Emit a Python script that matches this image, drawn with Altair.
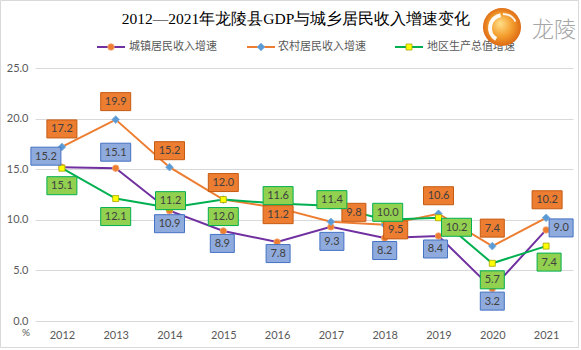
import altair as alt
import pandas as pd

# ---------------- data ----------------
years = [2012, 2013, 2014, 2015, 2016, 2017, 2018, 2019, 2020, 2021]
urban = [15.2, 15.1, 10.9, 8.9, 7.8, 9.3, 8.2, 8.4, 3.2, 9.0]
rural = [17.2, 19.9, 15.2, 12.0, 11.2, 9.8, 9.5, 10.6, 7.4, 10.2]
gdp = [15.1, 12.1, 11.2, 12.0, 11.6, 11.4, 10.0, 10.2, 5.7, 7.4]
series_names = ["城镇居民收入增速", "农村居民收入增速", "地区生产总值增速"]
y_ticks = [0, 5, 10, 15, 20, 25]
title_text = "2012—2021年龙陵县GDP与城乡居民收入增速变化"
logo_text = "龙陵"

# label placement (pixel offsets of the label box centre from its point)
urban_lab = [(-16, -11), (0, -16), (0, 13), (-1, 12.5), (1, 11.5), (1, 14.5), (0, 12.5), (-3, 13), (0, 12.5), (15, -2)]
rural_lab = [(0, -18), (0, -18), (0, -16.5), (0, -17), (1, 7), (23, -9.5), (11, 5), (0, -18), (0, -18), (1, -18)]
gdp_lab = [(0, 17.5), (0, 18), (1, -7), (0, 17), (1, -8), (1, -6), (3, -7.5), (18, 9.5), (0, 16.5), (3, 16)]

# ---------------- layout / style ----------------
W, H = 538, 253
X_DOM = [2011.5, 2021.5]
Y_DOM = [0, 25]
ppx = W / (X_DOM[1] - X_DOM[0])
ppy = H / (Y_DOM[1] - Y_DOM[0])
FONT = "Lato"
CJK = "Noto Sans CJK SC"
GRAY = "#595959"

styles = [
    dict(line="#7030A0", shape="circle", mfill="#ED7D31", mstroke="#F4A672", msize=42,
         bfill="#8FAADC", bstroke="#4472C4"),
    dict(line="#ED7D31", shape="diamond", mfill="#5B9BD5", mstroke="#7FAEDB", msize=60,
         bfill="#ED7D31", bstroke="#C55A11"),
    dict(line="#00B050", shape="square", mfill="#FFFF00", mstroke="#A6A600", msize=36,
         bfill="#92D050", bstroke="#00B050"),
]

xscale = alt.Scale(domain=X_DOM, nice=False, zero=False)
yscale = alt.Scale(domain=Y_DOM, nice=False)
xaxis = alt.Axis(values=years, format="d", grid=False, domain=False, ticks=False,
                 labelPadding=8, labelFontSize=11, labelFont=FONT, labelColor=GRAY, title=None)
yaxis = alt.Axis(values=y_ticks, format=".1f", grid=True, gridColor="#D9D9D9", gridWidth=1,
                 domain=False, ticks=False, labelPadding=7, labelFontSize=11, labelFont=FONT,
                 labelColor=GRAY, title=None)

all_vals = [urban, rural, gdp]
all_labs = [urban_lab, rural_lab, gdp_lab]

line_layers, marker_layers, label_layers = [], [], []
for name, vals, labs, st in zip(series_names, all_vals, all_labs, styles):
    df = pd.DataFrame({"year": years, "value": vals, "series": name})
    base = alt.Chart(df).encode(
        x=alt.X("year:Q", scale=xscale, axis=xaxis),
        y=alt.Y("value:Q", scale=yscale, axis=yaxis),
    )
    line_layers.append(base.mark_line(color=st["line"], strokeWidth=2))
    marker_layers.append(base.mark_point(shape=st["shape"], filled=True, fill=st["mfill"],
                                         stroke=st["mstroke"], strokeWidth=0.8,
                                         size=st["msize"], opacity=1))
    rows = []
    for yr, v, (dx, dy) in zip(years, vals, labs):
        txt = f"{v:.1f}"
        bw = 30 if len(txt) >= 4 else 24
        bh = 18
        cx = yr + dx / ppx
        cy = v - dy / ppy
        rows.append(dict(year=yr, value=v, text=txt, cx=cx, cy=cy,
                         x1=cx - bw / 2 / ppx, x2=cx + bw / 2 / ppx,
                         y1=cy - bh / 2 / ppy, y2=cy + bh / 2 / ppy))
    ldf = pd.DataFrame(rows)
    lbase = alt.Chart(ldf)
    rect = lbase.mark_rect(fill=st["bfill"], stroke=st["bstroke"], strokeWidth=1).encode(
        x=alt.X("x1:Q", scale=xscale, axis=xaxis), x2="x2:Q",
        y=alt.Y("y1:Q", scale=yscale, axis=yaxis), y2="y2:Q",
    )
    text = lbase.mark_text(font=FONT, fontSize=11, color="#404040", baseline="middle",
                           align="center", dy=0.5).encode(
        x=alt.X("cx:Q", scale=xscale, axis=xaxis),
        y=alt.Y("cy:Q", scale=yscale, axis=yaxis),
        text="text:N",
    )
    label_layers += [rect, text]

# ---------------- decorations (pixel positions relative to plot origin) ----------------
one = pd.DataFrame({"a": [0]})
deco = []

# outer frame
deco.append(alt.Chart(one).mark_rect(fillOpacity=0, stroke="#D9D9D9", strokeWidth=1).encode(
    x=alt.value(-34.5), x2=alt.value(543.5), y=alt.value(-67.5), y2=alt.value(279.5)))

# title
deco.append(alt.Chart(one).mark_text(text=title_text, font="Liberation Serif", fontSize=15.5,
                                     color="#000000", align="center", baseline="alphabetic").encode(
    x=alt.value(261), y=alt.value(-44)))

# legend
leg_pos = [(62, 90, 76, 94), (212, 240, 226, 243), (360, 388, 374, 392)]
LY = -21
for name, st, (l1, l2, mx, tx) in zip(series_names, styles, leg_pos):
    deco.append(alt.Chart(one).mark_rule(color=st["line"], strokeWidth=2).encode(
        x=alt.value(l1), x2=alt.value(l2), y=alt.value(LY)))
    deco.append(alt.Chart(one).mark_point(shape=st["shape"], filled=True, fill=st["mfill"],
                                          stroke=st["mstroke"], strokeWidth=0.8,
                                          size=st["msize"], opacity=1).encode(
        x=alt.value(mx), y=alt.value(LY)))
    deco.append(alt.Chart(one).mark_text(text=name, font=CJK, fontSize=11, color=GRAY,
                                         align="left", baseline="middle").encode(
        x=alt.value(tx), y=alt.value(LY)))

# logo
grad = alt.RadialGradient(gradient="radial", x1=0.45, y1=0.4, x2=0.5, y2=0.5, r1=0, r2=0.55,
                          stops=[alt.GradientStop(color="#FFE08A", offset=0),
                                 alt.GradientStop(color="#F39C2C", offset=0.55),
                                 alt.GradientStop(color="#D9600F", offset=1)])
deco.append(alt.Chart(one).mark_point(shape="circle", filled=True, fill=grad, size=1450,
                                      opacity=1, strokeWidth=0).encode(
    x=alt.value(467), y=alt.value(-41)))
deco.append(alt.Chart(one).mark_arc(theta=3.7, theta2=6.1, radius=15, radius2=11,
                                    fill="#FFFFFF", opacity=0.95).encode(
    x=alt.value(468), y=alt.value(-40)))
deco.append(alt.Chart(one).mark_arc(theta=0.0, theta2=1.1, radius=15, radius2=13,
                                    fill="#FFFFFF", opacity=0.9).encode(
    x=alt.value(468), y=alt.value(-40)))
deco.append(alt.Chart(one).mark_text(text=logo_text, font=CJK, fontSize=22, color="#A6A6A6",
                                     fontWeight=300, align="center", baseline="middle").encode(
    x=alt.value(519), y=alt.value(-38)))

# percent sign under y axis
deco.append(alt.Chart(one).mark_text(text="%", font=FONT, fontSize=10, color=GRAY,
                                     align="center", baseline="middle").encode(
    x=alt.value(-9), y=alt.value(12 + H)))

chart = alt.layer(*line_layers, *marker_layers, *label_layers, *deco).properties(
    width=W, height=H,
    padding={"left": 35, "top": 68, "right": 8, "bottom": 29},
    autosize=alt.AutoSizeParams(type="none"),
    background="#FFFFFF",
).configure_view(stroke=None)

chart.save("out.html", embed_options={"renderer": "svg", "actions": False})
